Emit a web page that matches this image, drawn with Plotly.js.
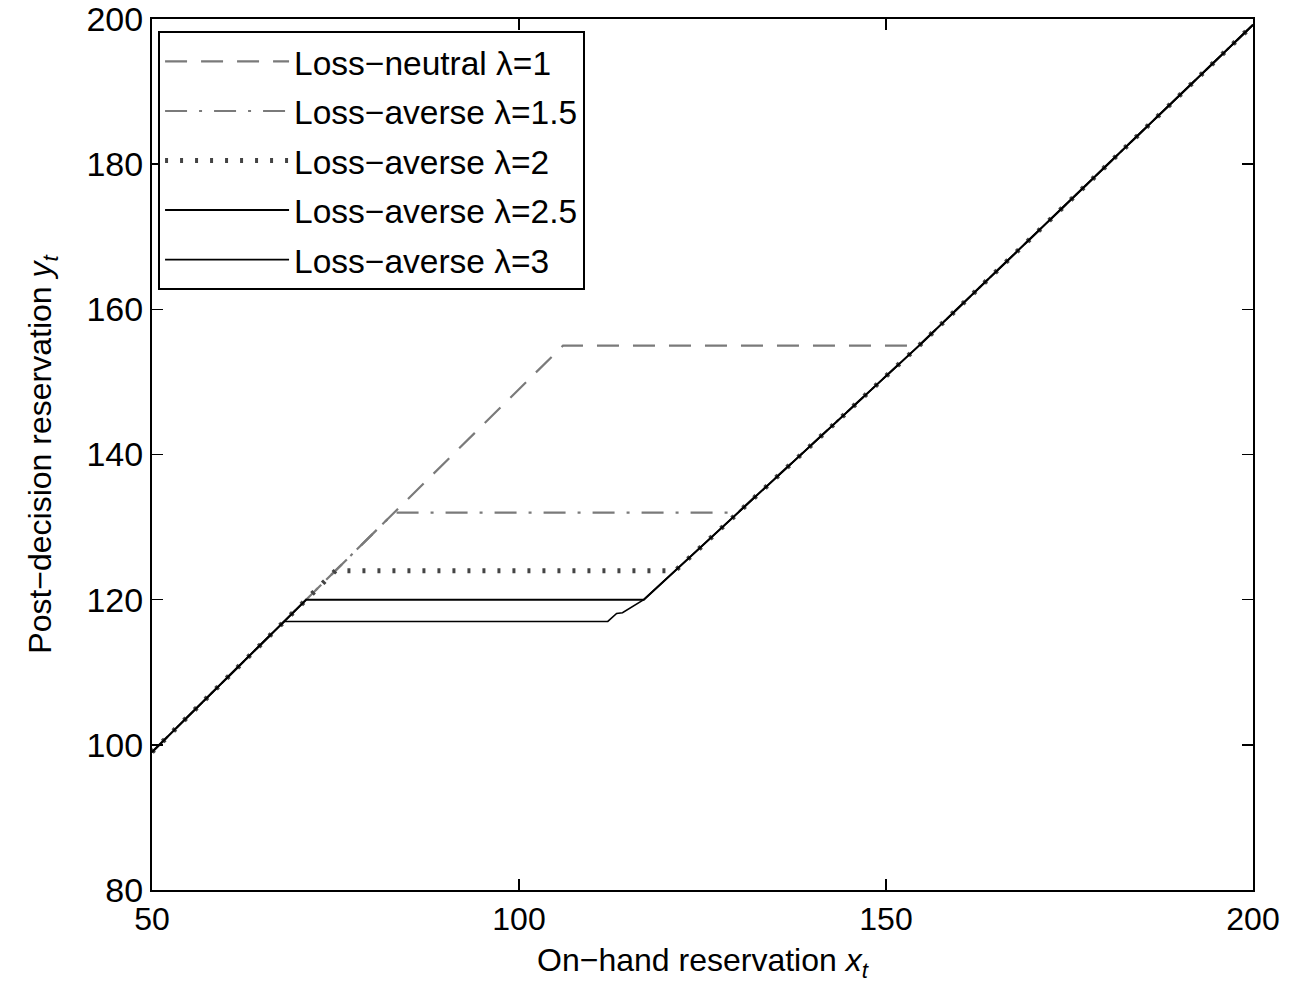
<!DOCTYPE html>
<html>
<head>
<meta charset="utf-8">
<script src="https://cdn.plot.ly/plotly-3.0.1.min.js"></script>
<style>
html,body{margin:0;padding:0;background:#fff;}
#chart{width:1309px;height:988px;}
</style>
</head>
<body>
<div id="chart"></div>
<script>
// Series names
const seriesNames = ["Loss\u2212neutral \u03bb=1", "Loss\u2212averse \u03bb=1.5", "Loss\u2212averse \u03bb=2", "Loss\u2212averse \u03bb=2.5", "Loss\u2212averse \u03bb=3"];

// On-hand reservation x_t and post-decision reservation y_t
const neutralX = [50, 106, 154.5, 200];
const neutralY = [99, 155, 155, 199.2];

const lam15X = [50, 83, 129.8, 154.5, 200];
const lam15Y = [99, 132, 132, 155, 199.2];

const lam2X = [50, 75, 121.3, 154.5, 200];
const lam2Y = [99, 124, 124, 155, 199.2];

const lam25X = [50, 71, 117, 154.5, 200];
const lam25Y = [99, 120, 120, 155, 199.2];

const lam3X = [50, 68, 112.1, 113.3, 114.1, 117, 154.5, 200];
const lam3Y = [99, 117, 117, 118.1, 118.2, 120, 155, 199.2];

const xTicks = [50, 100, 150, 200];
const yTicks = [80, 100, 120, 140, 160, 180, 200];

const styles = [
  {color: "#7a7a7a", width: 2.2, dash: "22px,14px"},
  {color: "#7a7a7a", width: 2.2, dash: "22px,12px,3px,12px"},
  {color: "#444444", width: 5, dash: "3px,12px"},
  {color: "#000000", width: 2},
  {color: "#000000", width: 1.6}
];

const xs = [neutralX, lam15X, lam2X, lam25X, lam3X];
const ys = [neutralY, lam15Y, lam2Y, lam25Y, lam3Y];

const traces = xs.map((x, i) => ({
  type: "scatter",
  mode: "lines",
  x: x,
  y: ys[i],
  name: seriesNames[i],
  legendgroup: "g" + i,
  line: styles[i]
}));

const font = "Liberation Sans, Arial, sans-serif";

const layout = {
  width: 1309,
  height: 988,
  margin: {l: 152, r: 56, t: 19, b: 98},
  paper_bgcolor: "#fff",
  plot_bgcolor: "#fff",
  showlegend: true,
  legend: {
    x: 0.0055, y: 0.986, xanchor: "left", yanchor: "top",
    bgcolor: "#fff", bordercolor: "#000", borderwidth: 2,
    font: {family: font, size: 33.5, color: "#000"},
    traceorder: "grouped", tracegroupgap: 3,
    itemwidth: 124
  },
  xaxis: {
    range: [50, 200], tickvals: xTicks, ticktext: xTicks.map(String),
    showgrid: false, zeroline: false,
    showline: true, linecolor: "#000", linewidth: 2, mirror: "ticks",
    ticks: "inside", ticklen: 11, tickwidth: 1.5, tickcolor: "#000",
    ticklabeloverflow: "allow",
    tickfont: {family: font, size: 32, color: "#000"},
    title: {text: "On\u2212hand reservation <i>x<sub>t</sub></i>", font: {family: font, size: 32, color: "#000"}, standoff: 12}
  },
  yaxis: {
    range: [80, 200], tickvals: yTicks, ticktext: yTicks.map(String),
    showgrid: false, zeroline: false,
    showline: true, linecolor: "#000", linewidth: 2, mirror: "ticks",
    ticks: "inside", ticklen: 11, tickwidth: 1.5, tickcolor: "#000",
    ticklabeloverflow: "allow",
    tickfont: {family: font, size: 34, color: "#000"},
    title: {text: "Post\u2212decision reservation <i>y<sub>t</sub></i>", font: {family: font, size: 32, color: "#000"}, standoff: 25}
  }
};

Plotly.newPlot("chart", traces, layout, {displayModeBar: false, staticPlot: true});
</script>
</body>
</html>
